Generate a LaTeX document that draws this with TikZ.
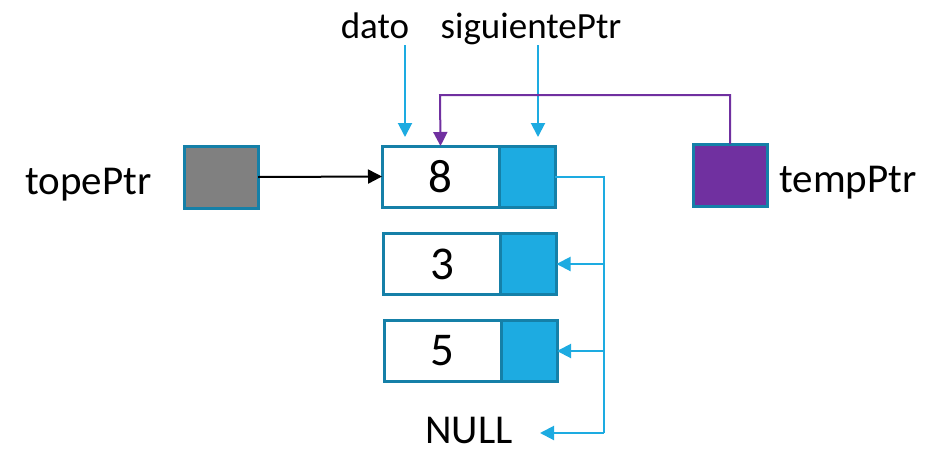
\documentclass[tikz,border=0pt]{standalone}
\usepackage{fontspec}
\setmainfont{Carlito}
\usetikzlibrary{arrows.meta}
\definecolor{edgeblue}{HTML}{1580A8}
\definecolor{ptrblue}{HTML}{1DABE1}
\definecolor{tmppurple}{HTML}{7030A0}
\definecolor{topegray}{HTML}{808080}
\tikzset{
  cell/.style={draw=edgeblue, line width=3pt, inner sep=0pt, outer sep=0pt,
               minimum height=61pt, font=\fontsize{47}{47}\selectfont},
  datacell/.style={cell, fill=white, minimum width=117pt},
  ptrcell/.style={cell, fill=ptrblue, minimum width=56pt},
  varbox/.style={draw=edgeblue, line width=3pt, inner sep=0pt, outer sep=0pt,
                 minimum width=74pt, minimum height=62pt},
  lbl/.style={anchor=base, inner sep=0pt, font=\fontsize{41}{41}\selectfont},
  toplbl/.style={anchor=base, inner sep=0pt, font=\fontsize{37}{37}\selectfont},
  tip/.style={-{Triangle[length=14pt,width=14pt]}},
  bluelink/.style={draw=ptrblue, line width=2pt},
}
\begin{document}
\begin{tikzpicture}[x=1pt,y=-1pt]
\useasboundingbox (0,0) rectangle (945,453);

% stack nodes: data part + pointer part
\node[datacell] (n8d) at (440.5,176.5) {8};
\node[ptrcell, anchor=west] (n8p) at (n8d.east) {};
\node[datacell] (n3d) at (442,264) {3};
\node[ptrcell, anchor=west] (n3p) at (n3d.east) {};
\node[datacell] (n5d) at (442.5,351) {5};
\node[ptrcell, anchor=west] (n5p) at (n5d.east) {};

% pointer variables
\node[varbox, fill=topegray] (tope) at (221,177) {};
\node[varbox, fill=tmppurple] (temp) at (730,175) {};

% labels
\node[lbl] (ltope) at (88.5,194) {topePtr};
\node[lbl] (ltemp) at (848,192) {tempPtr};
\node[toplbl] (ldato) at (375,38) {dato};
\node[toplbl] (lsig) at (531,38) {siguientePtr};
\node[lbl] (lnull) at (469,443) {NULL};

% field indicators
\coordinate (datoA) at (405,45);
\coordinate (datoB) at (405,137);
\coordinate (sigA) at (538,45);
\coordinate (sigB) at (538,137);
\draw[bluelink, tip] (datoA) -- (datoB);
\draw[bluelink, tip] (sigA) -- (sigB);

% topePtr -> first node
\draw[line width=2pt, tip] (tope.east) -- (n8d.west);

% tempPtr -> first node
\coordinate (ptop) at (440,95);
\draw[draw=tmppurple, line width=2pt, tip] (temp.north) |- (ptop) -- (n8d.north);

% next links
\coordinate (bus) at (604,433);
\coordinate (nullend) at (540,433);
\draw[bluelink] (n8p.east) -| (bus);
\draw[bluelink, tip] (bus) -- (nullend);
\draw[bluelink, tip] (n3p.east -| bus) -- (n3p.east);
\draw[bluelink, tip] (n5p.east -| bus) -- (n5p.east);
\end{tikzpicture}
\end{document}
